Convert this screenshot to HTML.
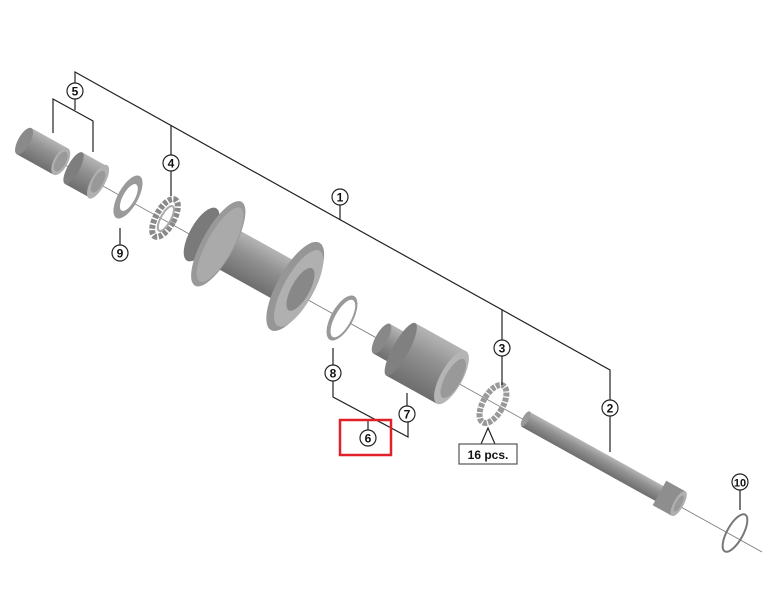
<!DOCTYPE html>
<html><head><style>
html,body{margin:0;padding:0;background:#fff;}
svg{display:block;}
text{font-family:"Liberation Sans",sans-serif;font-weight:bold;fill:#111;}
</style></head><body>
<svg width="780" height="593" viewBox="0 0 780 593" xmlns="http://www.w3.org/2000/svg">
<defs>
<linearGradient id="g" x1="0" y1="0" x2="0" y2="1">
<stop offset="0" stop-color="#b5b5b5"/><stop offset="0.4" stop-color="#929292"/><stop offset="1" stop-color="#6e6e6e"/>
</linearGradient>
</defs>
<line x1="20" y1="140" x2="762" y2="552" stroke="#777" stroke-width="0.8"/>

<!-- sleeve -->
<g transform="rotate(29 42 150)">
<rect x="22" y="136" width="42" height="30" fill="url(#g)"/>
<ellipse cx="22" cy="151" rx="6" ry="15" fill="#8a8a8a"/>
<ellipse cx="64" cy="151" rx="7" ry="15" fill="#b0b0b0"/>
<ellipse cx="64" cy="151" rx="5" ry="11" fill="#999"/>
</g>
<!-- nut -->
<g transform="rotate(29 88 175)">
<rect x="72" y="158" width="28" height="36" fill="url(#g)"/>
<ellipse cx="72" cy="176" rx="6" ry="18" fill="#7e7e7e"/>
<ellipse cx="100" cy="176" rx="7" ry="19" fill="#b0b0b0"/>
<ellipse cx="100" cy="176" rx="5" ry="12" fill="#999"/>
</g>
<!-- washer 9 -->
<g transform="rotate(29 128 197)">
<ellipse cx="128" cy="197" rx="10" ry="24" fill="#9a9a9a"/>
<ellipse cx="129" cy="197" rx="6" ry="15" fill="#fff"/>
</g>
<!-- bearing 4 -->
<g transform="rotate(29 165 218)">
<ellipse cx="165" cy="218" rx="9" ry="21" fill="none" stroke="#8a8a8a" stroke-width="6" stroke-dasharray="4 1.5"/>
<ellipse cx="166" cy="218" rx="5" ry="14" fill="none" stroke="#aaa" stroke-width="2"/>
</g>
<!-- hub -->
<g transform="rotate(29 262 268)">
<rect x="205" y="246" width="92" height="44" fill="url(#g)"/>
<ellipse cx="193" cy="268" rx="12" ry="30" fill="#7a7a7a"/>
<ellipse cx="212" cy="268" rx="16" ry="48" fill="#999"/>
<ellipse cx="214" cy="268" rx="13" ry="42" fill="#aaa"/>
<ellipse cx="300" cy="268" rx="18" ry="50" fill="#969696"/>
<ellipse cx="304" cy="268" rx="15" ry="43" fill="#b0b0b0"/>
<ellipse cx="306" cy="268" rx="9" ry="24" fill="#888"/>
</g>
<!-- washer 8 -->
<g transform="rotate(29 342 318)">
<ellipse cx="342" cy="318" rx="11" ry="25" fill="#999"/>
<ellipse cx="343" cy="318" rx="8" ry="21" fill="#fff"/>
</g>
<!-- freehub -->
<g transform="rotate(29 420 360)">
<rect x="376" y="343" width="22" height="34" fill="url(#g)"/>
<ellipse cx="376" cy="360" rx="6" ry="17" fill="#888"/>
<rect x="398" y="330" width="58" height="60" fill="url(#g)"/>
<ellipse cx="398" cy="360" rx="8" ry="30" fill="#808080"/>
<ellipse cx="456" cy="360" rx="11" ry="30" fill="#b5b5b5"/>
<ellipse cx="458" cy="360" rx="8" ry="22" fill="#999"/>
</g>
<!-- balls -->
<g transform="rotate(29 493 404)">
<ellipse cx="493" cy="404" rx="10" ry="21" fill="none" stroke="#999" stroke-width="6" stroke-dasharray="4 1.2"/>
</g>
<!-- axle -->
<g transform="rotate(29 600 460)">
<rect x="515" y="452" width="155" height="17" fill="url(#g)"/>
<ellipse cx="515" cy="460" rx="3" ry="8.5" fill="#999"/>
<rect x="668" y="446" width="22" height="28" fill="#8e8e8e"/>
<ellipse cx="690" cy="460" rx="5" ry="14" fill="#b0b0b0"/>
<ellipse cx="690" cy="460" rx="3" ry="9" fill="#999"/>
</g>
<!-- ring 10 -->
<g transform="rotate(29 735 533)">
<ellipse cx="735" cy="533" rx="8" ry="21" fill="none" stroke="#777" stroke-width="2"/>
</g>

<g stroke="#222" stroke-width="1.2" fill="none">
<polyline points="75,83 75,72 610,370 610,400"/>
<line x1="610" y1="416" x2="610" y2="452"/>
<line x1="75" y1="99" x2="75" y2="110"/>
<polyline points="53,133 53,99 93,121 93,152"/>
<line x1="171" y1="125" x2="171" y2="155"/>
<line x1="171" y1="171" x2="171" y2="196"/>
<line x1="340" y1="205" x2="340" y2="220"/>
<line x1="502" y1="310" x2="502" y2="340"/>
<line x1="502" y1="356" x2="502" y2="385"/>
<line x1="120" y1="228" x2="120" y2="245"/>
<line x1="333" y1="348" x2="333" y2="365"/>
<polyline points="333,381 333,397 408,437 408,422"/>
<line x1="407" y1="406" x2="407" y2="393"/>
<line x1="368" y1="420" x2="368" y2="430"/>
<polyline points="481,444 488,428 495,444"/>
<line x1="740" y1="490" x2="740" y2="510"/>
</g>
<g fill="#fff" stroke="#222" stroke-width="1.2">
<circle cx="75" cy="91" r="8"/><circle cx="171" cy="163" r="8"/><circle cx="340" cy="197" r="8"/>
<circle cx="502" cy="348" r="8"/><circle cx="610" cy="408" r="8"/><circle cx="120" cy="253" r="8"/>
<circle cx="333" cy="373" r="8"/><circle cx="407" cy="414" r="8"/><circle cx="368" cy="438" r="8"/>
<circle cx="740" cy="482" r="8"/>
<rect x="459" y="444" width="58" height="20" stroke="#555"/>
</g>
<g font-size="12" text-anchor="middle">
<text x="75" y="95.5">5</text><text x="171" y="167.5">4</text><text x="340" y="201.5">1</text>
<text x="502" y="352.5">3</text><text x="610" y="412.5">2</text><text x="120" y="257.5">9</text>
<text x="333" y="377.5">8</text><text x="407" y="418.5">7</text><text x="368" y="442.5">6</text>
<text x="740" y="486.5" font-size="11">10</text>
<text x="488" y="459">16 pcs.</text>
</g>
<rect x="340" y="420" width="51" height="35" fill="none" stroke="#e0202a" stroke-width="2.5"/>
</svg>
</body></html>
